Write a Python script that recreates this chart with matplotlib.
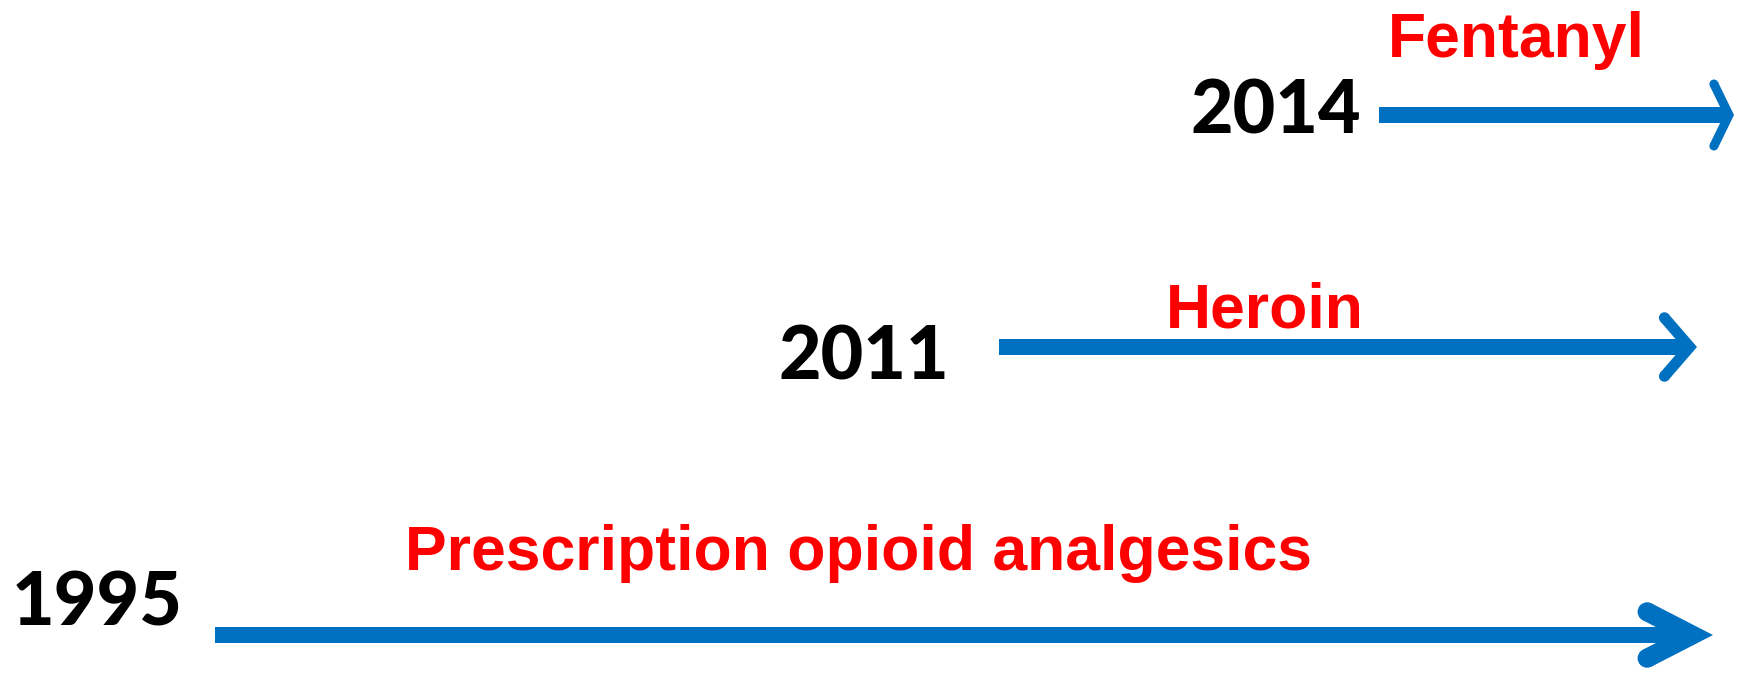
import numpy as np
import matplotlib.pyplot as plt
from matplotlib.patches import Polygon, Rectangle, Circle

# Timeline entries, bottom to top
years = ['1995', '2011', '2014']
labels = ['Prescription opioid analgesics', 'Heroin', 'Fentanyl']

# Layout in pixel units of the 1743x673 canvas (y measured from top)
arrow_start = [215, 999, 1379]
arrow_tip = [1713, 1697, 1734]
arrow_y = [635, 347, 115]
head_back = [1643, 1665, 1716]
head_half = [36, 37, 37]
head_arm = [19, 11, 9]
year_x = [97, 864, 1276]
year_base = [626, 380, 134]
label_x = [859, 1265, 1516]
label_base = [570, 327, 57]

blue = '#0070C0'
red = '#FF0000'
shaft = 16

fig = plt.figure(figsize=(17.43, 6.73), dpi=100)
ax = fig.add_axes([0, 0, 1, 1])
ax.set_xlim(0, 1743)
ax.set_ylim(673, 0)
ax.set_aspect('equal')
ax.axis('off')


def chevron(tx, y, bx, h, t):
    # open ">" head with pointed tip and rounded back ends
    T = np.array([tx, y], float)
    a = bx - tx
    pts_o, pts_i = [], []
    for s in (-1, 1):
        v = np.array([a, s * h], float)
        ln = np.hypot(*v)
        u = v / ln
        n = np.array([-h, s * a]) / ln   # points to the inside of the head
        bo = T + u * (ln - t / 2)
        bi = bo + n * t
        pts_o.append(bo)
        pts_i.append(bi)
        ax.add_patch(Circle((bo + bi) / 2, t / 2, color=blue, lw=0))
    inner = np.array([tx - t * np.hypot(a, h) / h, y])
    poly = [pts_o[0], T, pts_o[1], pts_i[1], inner, pts_i[0]]
    ax.add_patch(Polygon(poly, closed=True, facecolor=blue, edgecolor='none'))
    return inner[0]


for i in range(len(years)):
    y = arrow_y[i]
    x_in = chevron(arrow_tip[i], y, head_back[i], head_half[i], head_arm[i])
    ax.add_patch(Rectangle((arrow_start[i], y - shaft / 2),
                           x_in + 2 - arrow_start[i], shaft,
                           facecolor=blue, edgecolor='none'))

    ax.text(year_x[i], year_base[i], years[i], ha='center', va='baseline',
            fontsize=53, fontweight='black', family='Lato', color='black')
    ax.text(label_x[i], label_base[i], labels[i], ha='center', va='baseline',
            fontsize=45, fontweight='bold', family='Liberation Sans', color=red)

fig.savefig('out.png', dpi=100, facecolor='white')
